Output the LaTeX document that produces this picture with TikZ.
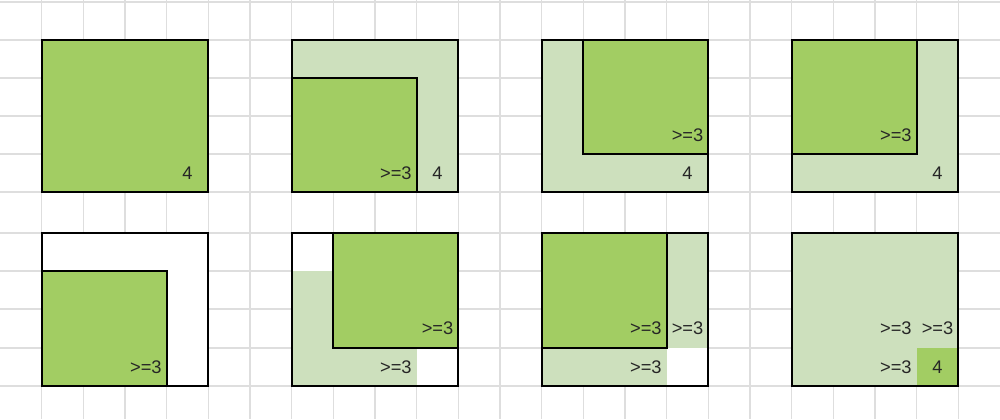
\documentclass[tikz,border=0pt]{standalone}
\usepackage{fontspec}
\setmainfont{Liberation Sans}
\definecolor{darkgreen}{HTML}{A2CD63}
\definecolor{lightgreen}{HTML}{CDE0BD}
\definecolor{gridgray}{HTML}{DEDEDE}
\begin{document}
\begin{tikzpicture}[
		gridline/.style={draw=gridgray, line width=0.9pt},
		dark/.style={fill=darkgreen},
		light/.style={fill=lightgreen},
		frame/.style={draw=black, line width=1.6pt},
		lbl/.style={font=\fontsize{13}{15}\selectfont, text=black!85, inner sep=0pt}
		]
		\useasboundingbox (0,0) rectangle (25,-10.475);
		% grid
		\foreach \k in {1,...,23} {
			\draw[gridline] (\k*1.04167,0) -- (\k*1.04167,-5.3);
			\draw[gridline] (\k*1.04167,-5.3) -- (\k*1.04167,-10.475);
		}
		\foreach \y in {0.05,1.0,1.95,2.9,3.85,4.8,5.825,6.775,7.725,8.7,9.65}
			\draw[gridline] (0,-\y) -- (25,-\y);

		% top row
		\begin{scope}[xshift=1.04167cm, yshift=-1cm, x=1.04167cm, y=-0.95cm]
			\fill[dark] (0,0) rectangle (4,4);
			\draw[frame] (0,0) rectangle (4,4);
			\node[lbl] (a4) at (3.5,3.5) {4};
		\end{scope}
		\begin{scope}[xshift=7.29167cm, yshift=-1cm, x=1.04167cm, y=-0.95cm]
			\fill[light] (0,0) rectangle (4,4);
			\filldraw[dark, frame] (0,1) rectangle (3,4);
			\draw[frame] (0,0) rectangle (4,4);
			\node[lbl] (b3) at (2.5,3.5) {>=3};
			\node[lbl] (b4) at (3.5,3.5) {4};
		\end{scope}
		\begin{scope}[xshift=13.54167cm, yshift=-1cm, x=1.04167cm, y=-0.95cm]
			\fill[light] (0,0) rectangle (4,4);
			\filldraw[dark, frame] (1,0) rectangle (4,3);
			\draw[frame] (0,0) rectangle (4,4);
			\node[lbl] (c3) at (3.5,2.5) {>=3};
			\node[lbl] (c4) at (3.5,3.5) {4};
		\end{scope}
		\begin{scope}[xshift=19.79167cm, yshift=-1cm, x=1.04167cm, y=-0.95cm]
			\fill[light] (0,0) rectangle (4,4);
			\filldraw[dark, frame] (0,0) rectangle (3,3);
			\draw[frame] (0,0) rectangle (4,4);
			\node[lbl] (d3) at (2.5,2.5) {>=3};
			\node[lbl] (d4) at (3.5,3.5) {4};
		\end{scope}

		% bottom row
		\begin{scope}[xshift=1.04167cm, yshift=-5.825cm, x=1.04167cm, y=-0.956cm]
			\fill[white] (0,0) rectangle (4,4);
			\filldraw[dark, frame] (0,1) rectangle (3,4);
			\draw[frame] (0,0) rectangle (4,4);
			\node[lbl] (e3) at (2.5,3.5) {>=3};
		\end{scope}
		\begin{scope}[xshift=7.29167cm, yshift=-5.825cm, x=1.04167cm, y=-0.956cm]
			\fill[white] (0,0) rectangle (4,4);
			\fill[light] (0,1) rectangle (3,4);
			\filldraw[dark, frame] (1,0) rectangle (4,3);
			\draw[frame] (0,0) rectangle (4,4);
			\node[lbl] (f3a) at (3.5,2.5) {>=3};
			\node[lbl] (f3b) at (2.5,3.5) {>=3};
		\end{scope}
		\begin{scope}[xshift=13.54167cm, yshift=-5.825cm, x=1.04167cm, y=-0.956cm]
			\fill[white] (0,0) rectangle (4,4);
			\fill[light] (0,0) rectangle (4,3);
			\fill[light] (0,3) rectangle (3,4);
			\filldraw[dark, frame] (0,0) rectangle (3,3);
			\draw[frame] (0,0) rectangle (4,4);
			\node[lbl] (g3a) at (2.5,2.5) {>=3};
			\node[lbl] (g3b) at (3.5,2.5) {>=3};
			\node[lbl] (g3c) at (2.5,3.5) {>=3};
		\end{scope}
		\begin{scope}[xshift=19.79167cm, yshift=-5.825cm, x=1.04167cm, y=-0.956cm]
			\fill[light] (0,0) rectangle (4,4);
			\fill[dark] (3,3) rectangle (4,4);
			\draw[frame] (0,0) rectangle (4,4);
			\node[lbl] (h3a) at (2.5,2.5) {>=3};
			\node[lbl] (h3b) at (3.5,2.5) {>=3};
			\node[lbl] (h3c) at (2.5,3.5) {>=3};
			\node[lbl] (h4) at (3.5,3.5) {4};
		\end{scope}
	\end{tikzpicture}
\end{document}
